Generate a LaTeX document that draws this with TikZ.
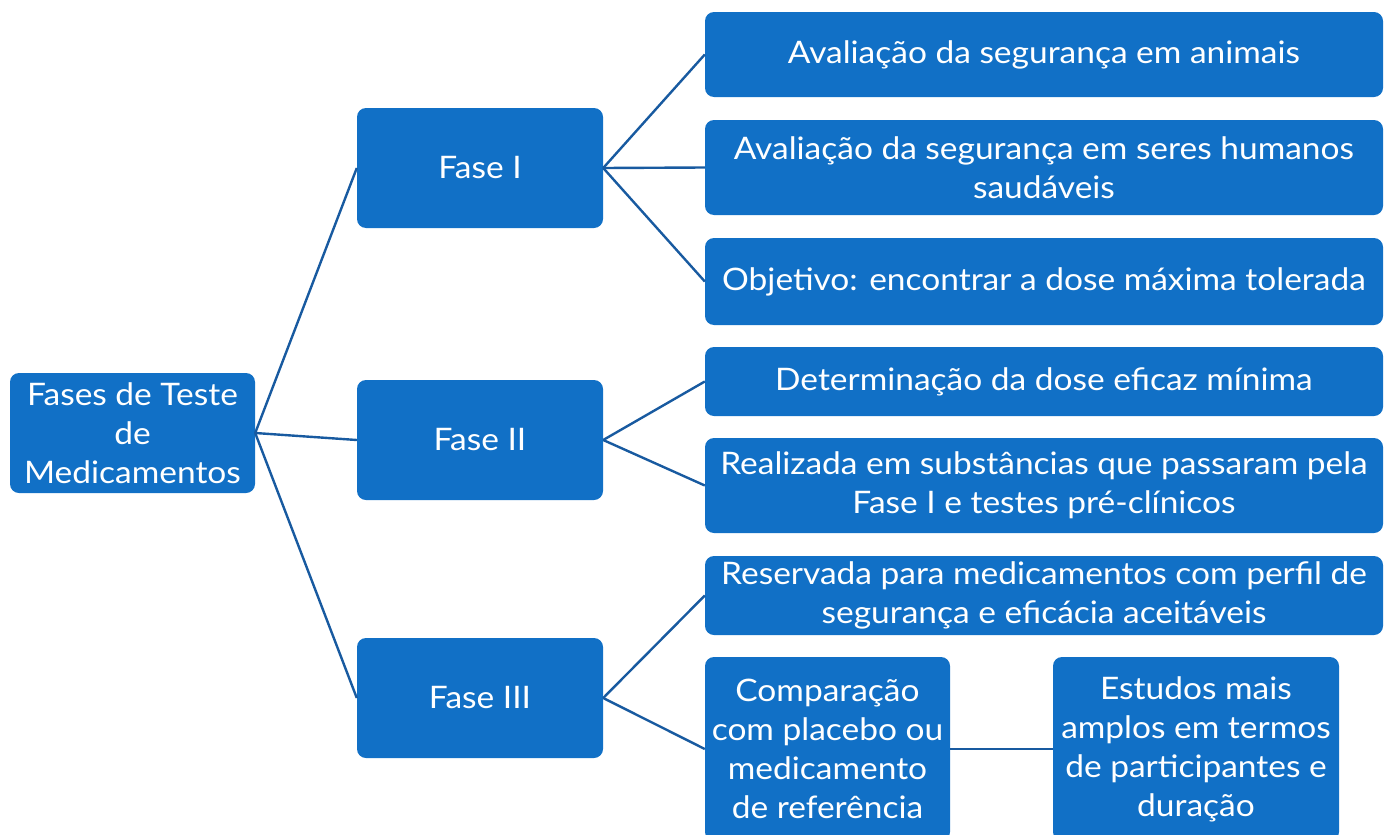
\documentclass[tikz,border=0pt]{standalone}
\usepackage{fontspec}
\setmainfont{Lato}[FakeStretch=1.08]
\definecolor{boxblue}{RGB}{17,112,198}
\definecolor{lineblue}{RGB}{24,90,160}
\begin{document}
\begin{tikzpicture}[x=1pt,y=-1pt,
  box/.style={fill=boxblue, rounded corners=9pt, text=white, align=center, inner sep=0pt,
    font=\fontsize{31}{39}\selectfont},
  conn/.style={draw=lineblue, line width=2.4pt}]
\useasboundingbox (0,0) rectangle (1387,835);
\clip (0,0) rectangle (1387,835);
\node[box, minimum width=245pt, minimum height=120pt] (root) at (132.5,433) {Fases de Teste\\de\\Medicamentos};
\node[box, minimum width=246pt, minimum height=120pt] (f1) at (480,168) {Fase I};
\node[box, minimum width=246pt, minimum height=120pt] (f2) at (480,440) {Fase II};
\node[box, minimum width=246pt, minimum height=120pt] (f3) at (480,698) {Fase III};
\node[box, minimum width=678pt, minimum height=85pt] (l1) at (1044,54.5) {Avaliação da segurança em animais};
\node[box, minimum width=678pt, minimum height=95pt] (l2) at (1044,167.5) {Avaliação da segurança em seres humanos\\saudáveis};
\node[box, minimum width=678pt, minimum height=87pt] (l3) at (1044,281.5) {Objetivo: encontrar a dose máxima tolerada};
\node[box, minimum width=678pt, minimum height=69pt] (l4) at (1044,381.5) {Determinação da dose eficaz mínima};
\node[box, minimum width=678pt, minimum height=95pt] (l5) at (1044,485.5) {Realizada em substâncias que passaram pela\\Fase I e testes pré-clínicos};
\node[box, minimum width=678pt, minimum height=79pt] (l6) at (1044,595.5) {Reservada para medicamentos com perfil de\\segurança e eficácia aceitáveis};
\node[box, minimum width=245pt, minimum height=184pt] (l7) at (827.5,749) {Comparação\\com placebo ou\\medicamento\\de referência};
\node[box, minimum width=286pt, minimum height=184pt] (l8) at (1196,749) {Estudos mais\\amplos em termos\\de participantes e\\duração};
\draw[conn] (root.east) -- (f1.west);
\draw[conn] (root.east) -- (f2.west);
\draw[conn] (root.east) -- (f3.west);
\draw[conn] (f1.east) -- (l1.west);
\draw[conn] (f1.east) -- (l2.west);
\draw[conn] (f1.east) -- (l3.west);
\draw[conn] (f2.east) -- (l4.west);
\draw[conn] (f2.east) -- (l5.west);
\draw[conn] (f3.east) -- (l6.west);
\draw[conn] (f3.east) -- (l7.west);
\draw[conn] (l7.east) -- (l8.west);
\end{tikzpicture}
\end{document}
